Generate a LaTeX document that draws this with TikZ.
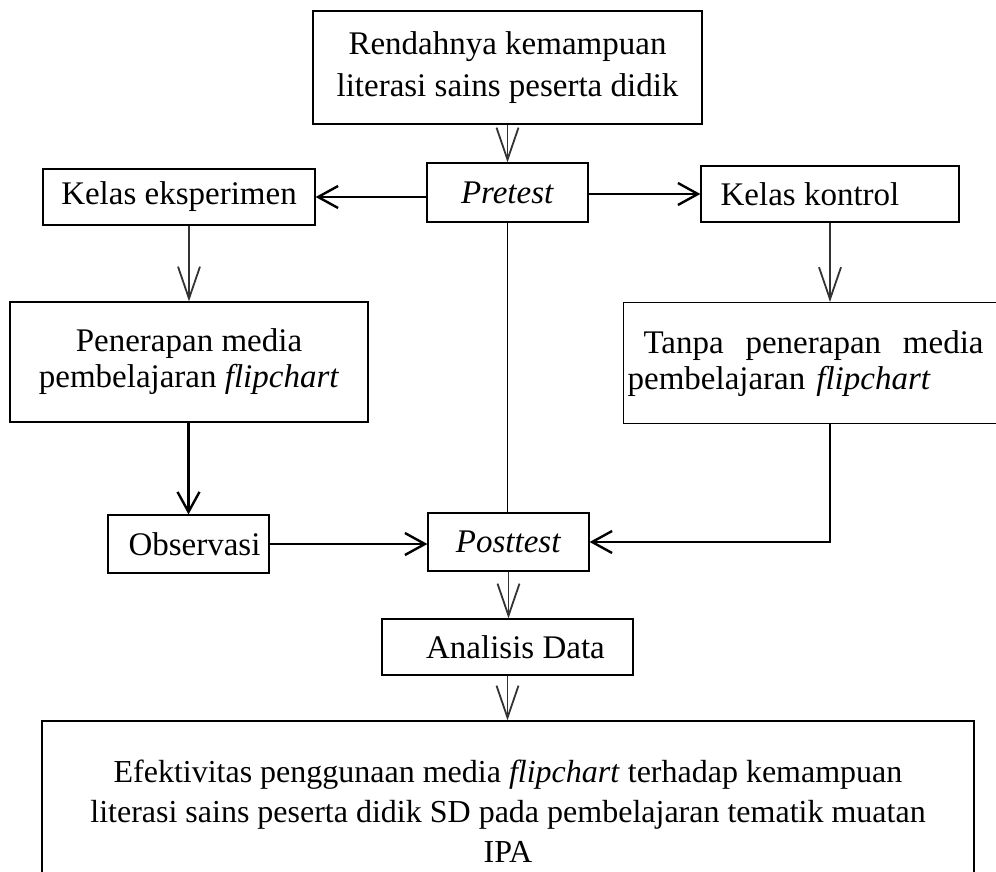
\documentclass[tikz,border=0pt]{standalone}
\usepackage{fontspec}
\setmainfont{Liberation Serif}
\usetikzlibrary{arrows.meta}

\begin{document}
\begin{tikzpicture}[
  x=0.5pt,
  y=-0.5pt,
  box/.style={draw=black,line width=0.6pt,inner sep=2pt,font=\fontsize{16.5}{18}\selectfont},
  flow/.style={-{Straight Barb[length=10pt,width=11pt]},line width=1.2pt},
  drop/.style={-{Straight Barb[length=16pt,width=11pt]},line width=0.9pt,draw=black!80},
  link/.style={line width=0.9pt}
]
\useasboundingbox (0,0) rectangle (996,872);
\clip (0,0) rectangle (996,872);

\node[box,minimum width=194.5pt,minimum height=56.5pt,align=center,
  font=\fontsize{16.5}{21}\selectfont] (masalah) at (507.5,67.5)
  {Rendahnya kemampuan\\literasi sains peserta didik};
\node[box,minimum width=80.5pt,minimum height=29.5pt] (pretest) at (507.5,192.5) {\textit{Pretest}};
\node[box,minimum width=136pt,minimum height=28pt] (eksperimen) at (179,197) {Kelas eksperimen};
\node[box,minimum width=129pt,minimum height=28pt] (kontrol) at (830,194) {Kelas kontrol\hspace*{20pt}};
\node[box,minimum width=179pt,minimum height=60pt,align=center] (penerapan) at (189,362)
  {Penerapan media\\pembelajaran \textit{flipchart}};
\node[box,anchor=north west,text width=189.5pt,minimum height=60.5pt,align=left] (tanpa) at (623,302)
  {\hspace*{8pt}\makebox[170pt]{Tanpa\hfill penerapan\hfill media}\\pembelajaran \textit{flipchart}};
\node[box,minimum width=80.5pt,minimum height=29pt] (observasi) at (188.5,544) {\hspace*{6pt}Observasi};
\node[box,minimum width=80.5pt,minimum height=29pt] (posttest) at (508.5,542) {\textit{Posttest}};
\node[box,minimum width=125.5pt,minimum height=28pt] (analisis) at (507.5,647) {\hspace*{8pt}Analisis Data};
\node[box,minimum width=466pt,minimum height=90.5pt,align=center,
  font=\fontsize{16}{20}\selectfont] (hasil) at (508,811.5)
  {Efektivitas penggunaan media \textit{flipchart} terhadap kemampuan\\
   literasi sains peserta didik SD pada pembelajaran tematik muatan\\IPA};

\draw[drop] (masalah.south) -- (pretest.north);
\draw[flow] (eksperimen.east -| pretest.west) -- (eksperimen.east);
\draw[flow] (kontrol.west -| pretest.east) -- (kontrol.west);
\draw[drop] (eksperimen.south -| penerapan.north) -- (penerapan.north);
\draw[drop] (kontrol.south) -- (kontrol.south |- tanpa.north);
\draw[flow] (penerapan.south -| observasi.north) -- (observasi.north);
\draw[flow] (observasi.east) -- (observasi.east -| posttest.west);
\draw[link] (pretest.south) -- (pretest.south |- posttest.north);
\draw[flow] (tanpa.south -| kontrol.south) |- (posttest.east);
\draw[drop] (posttest.south) -- (posttest.south |- analisis.north);
\draw[drop] (analisis.south) -- (analisis.south |- hasil.north);
\end{tikzpicture}
\end{document}
